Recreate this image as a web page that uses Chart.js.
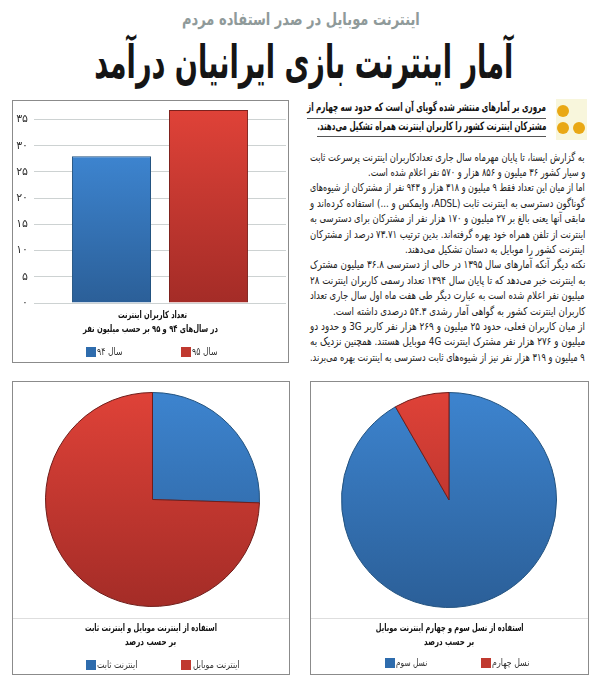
<!DOCTYPE html>
<html lang="fa">
<head>
<meta charset="utf-8">
<title>آمار اینترنت</title>
<script src="https://cdn.jsdelivr.net/npm/chart.js@4"></script>
<style>
  html, body { margin: 0; padding: 0; background: #fff; }
  body { width: 600px; height: 680px; position: relative; overflow: hidden; font-family: "DejaVu Sans", sans-serif; }
  .frame { position: absolute; border: 1px solid #8b8b8b; box-sizing: border-box; }
  .frame canvas { position: absolute; left: 0; top: 0; }
  .sep { position: absolute; left: 0; right: 0; height: 1px; background: #dedede; }
  .fit { position: absolute; white-space: nowrap; direction: rtl; transform-origin: 100% 50%; line-height: 1; }
  .rule { position: absolute; height: 1px; background: #555; }
  .dot { position: absolute; width: 12px; height: 12px; border-radius: 50%; background: #e9a815; }
  .swatch { position: absolute; width: 10px; height: 10px; }
  #iconBg { position: absolute; left: 556px; top: 99px; width: 31px; height: 41px; background: #f8f6dc; }
</style>
</head>
<body>

<div id="iconBg"></div>
<div class="dot" style="left:557px;top:105px"></div>
<div class="dot" style="left:557px;top:122px"></div>
<div class="dot" style="left:573px;top:122px"></div>
<div class="rule" style="left:307px;top:118px;width:239px"></div>
<div class="rule" style="left:317px;top:136px;width:229px"></div>

<div class="frame" style="left:12px;top:100px;width:277px;height:263px"><canvas id="barChart" width="275" height="261"></canvas></div>
<div class="frame" style="left:12px;top:381px;width:278px;height:294px"><div class="sep" style="top:236px"></div><canvas id="pieLeft" width="276" height="292"></canvas></div>
<div class="frame" style="left:310px;top:381px;width:279px;height:294px"><div class="sep" style="top:236px"></div><canvas id="pieRight" width="277" height="292"></canvas></div>

<script>
// bar chart
const barCategories = [''];
const barSeriesNames = ['سال ۹۴', 'سال ۹۵'];
const barValues94 = [28];
const barValues95 = [36.8];
const barTickLabels = ['۰', '۵', '۱۰', '۱۵', '۲۰', '۲۵', '۳۰', '۳۵'];
const barTitle = ['تعداد کاربران اینترنت', 'در سال‌های ۹۴ و ۹۵ بر حسب میلیون نفر'];

// pies
const fixedLabels = ['اینترنت ثابت', 'اینترنت موبایل'];
const fixedValues = [25.5, 74.5];
const fixedTitle = ['استفاده از اینترنت موبایل و اینترنت ثابت', 'بر حسب درصد'];

const genLabels = ['نسل سوم', 'نسل چهارم'];
const genValues = [91.7, 8.3];
const genTitle = ['استفاده از نسل سوم و چهارم اینترنت موبایل', 'بر حسب درصد'];

// article text
const subTitle = 'اینترنت موبایل در صدر استفاده مردم';
const mainTitle = 'آمار اینترنت بازی ایرانیان درآمد';
const leadLines = [
  'مروری بر آمارهای منتشر شده گویای آن است که حدود سه چهارم از',
  'مشترکان اینترنت کشور را کاربران اینترنت همراه تشکیل می‌دهند.'
];
const bodyLines = [
  'به گزارش ایسنا، تا پایان مهرماه سال جاری تعدادکاربران اینترنت پرسرعت ثابت',
  'و سیار کشور ۳۶ میلیون و ۸۵۶ هزار و ۵۷۰ نفر اعلام شده است.',
  'اما از میان این تعداد فقط ۹ میلیون و ۳۱۸ هزار و ۹۴۳ نفر از مشترکان از شیوه‌های',
  'گوناگون دسترسی به اینترنت ثابت (ADSL، وایمکس و ...) استفاده کرده‌اند و',
  'مابقی آنها یعنی بالغ بر ۲۷ میلیون و ۱۷۰ هزار نفر از مشترکان برای دسترسی به',
  'اینترنت از تلفن همراه خود بهره گرفته‌اند. بدین ترتیب ۷۳.۷۱ درصد از مشترکان',
  'اینترنت کشور را موبایل به دستان تشکیل می‌دهند.',
  'نکته دیگر آنکه آمارهای سال ۱۳۹۵ در حالی از دسترسی ۳۶.۸ میلیون مشترک',
  'به اینترنت خبر می‌دهد که تا پایان سال ۱۳۹۴ تعداد رسمی کاربران اینترنت ۲۸',
  'میلیون نفر اعلام شده است به عبارت دیگر طی هفت ماه اول سال جاری تعداد',
  'کاربران اینترنت کشور به گواهی آمار رشدی ۵۴.۳ درصدی داشته است.',
  'از میان کاربران فعلی، حدود ۲۵ میلیون و ۲۶۹ هزار نفر کاربر 3G و حدود دو',
  'میلیون و ۲۷۶ هزار نفر مشترک اینترنت 4G موبایل هستند. همچنین نزدیک به',
  '۹ میلیون و ۳۱۹ هزار نفر نیز از شیوه‌های ثابت دسترسی به اینترنت بهره می‌برند.'
];
const bodyWidths = [275, 217, 275, 275, 275, 275, 180, 275, 275, 275, 252, 275, 275, 275];

const blueFlat = '#2e6cad';
const redFlat = '#c0392f';
const blueStops = ['#3d84cf', '#2b5f98'];
const redStops = ['#df4238', '#a42c27'];
const chartFont = '"DejaVu Sans", sans-serif';

// puts one line of text on the page, squeezed to the width it has in the paper
const addLine = (text, right, centerY, width, size, weight, color) => {
  const el = document.createElement('div');
  el.className = 'fit';
  el.textContent = text;
  el.style.right = (600 - right) + 'px';
  el.style.top = (centerY - size / 2) + 'px';
  el.style.fontSize = size + 'px';
  el.style.fontWeight = weight;
  el.style.color = color;
  document.body.appendChild(el);
  el.style.transform = 'scaleX(' + (width / el.offsetWidth) + ')';
};

const addSwatch = (left, centerY, color) => {
  const el = document.createElement('div');
  el.className = 'swatch';
  el.style.left = left + 'px';
  el.style.top = (centerY - 5) + 'px';
  el.style.background = color;
  document.body.appendChild(el);
};

// first pass runs before layout, scales have no pixels yet
const vGradient = (chart, top, bottom, stops) => {
  if (!Number.isFinite(top) || !Number.isFinite(bottom)) return stops[1];
  const g = chart.ctx.createLinearGradient(0, top, 0, bottom);
  g.addColorStop(0, stops[0]);
  g.addColorStop(1, stops[1]);
  return g;
};

const barFill = (stops) => (c) => {
  const y = c.chart.scales.y;
  if (!y || !c.parsed) return stops[1];
  return vGradient(c.chart, y.getPixelForValue(c.parsed.y), y.getPixelForValue(0), stops);
};

const pieFill = (c) => {
  const a = c.chart.chartArea;
  const stops = c.dataIndex === 0 ? blueStops : redStops;
  if (!a) return stops[1];
  return vGradient(c.chart, a.top, a.bottom, stops);
};

const showBar = () => {
  new Chart(document.getElementById('barChart'), {
    type: 'bar',
    data: {
      labels: barCategories,
      datasets: [
        { label: barSeriesNames[0], data: barValues94, backgroundColor: barFill(blueStops), borderColor: '#22527f', borderWidth: 1 },
        { label: barSeriesNames[1], data: barValues95, backgroundColor: barFill(redStops), borderColor: '#7d211d', borderWidth: 1 }
      ]
    },
    options: {
      responsive: false,
      animation: false,
      layout: { padding: { top: 8, right: 2, bottom: 51, left: 0 } },
      datasets: { bar: { categoryPercentage: 0.77, barPercentage: 0.815 } },
      scales: {
        x: { grid: { display: false }, border: { display: false }, ticks: { display: false } },
        y: {
          min: 0,
          max: 37,
          afterFit: (axis) => { axis.width = 21; axis.paddingTop = 0; },
          grid: { color: '#cdd2d2', drawTicks: false },
          border: { display: false },
          ticks: {
            stepSize: 5,
            includeBounds: false,
            padding: 6,
            color: '#333',
            font: { family: chartFont, size: 11 },
            callback: (v) => barTickLabels[v / 5]
          }
        }
      },
      plugins: { title: { display: false }, legend: { display: false }, tooltip: { enabled: false } }
    }
  });
};

const showPie = (id, labels, values, padding) => {
  new Chart(document.getElementById(id), {
    type: 'pie',
    data: {
      labels: labels,
      datasets: [{
        data: values,
        backgroundColor: pieFill,
        borderColor: ['#22527f', '#6f1d1a'],
        borderWidth: 1
      }]
    },
    options: {
      responsive: false,
      animation: false,
      layout: { padding: padding },
      plugins: { title: { display: false }, legend: { display: false }, tooltip: { enabled: false } }
    }
  });
};

window.addEventListener('load', function () {
  addLine(subTitle, 420, 19, 238, 17, 'bold', '#8f9a9a');
  addLine(mainTitle, 513, 62, 419, 46, 'bold', '#151515');
  addLine(leadLines[0], 546, 108, 239, 11.5, 'bold', '#111');
  addLine(leadLines[1], 546, 127, 229, 11.5, 'bold', '#111');
  bodyLines.forEach((line, i) => {
    addLine(line, 585, 157 + i * 15.4, bodyWidths[i], 11, 'normal', '#222');
  });

  showBar();
  addLine(barTitle[0], 187, 315, 69, 10, 'bold', '#111');
  addLine(barTitle[1], 218, 328.5, 135, 10, 'bold', '#111');
  addSwatch(86, 352, blueFlat);
  addLine(barSeriesNames[0], 123, 352, 26, 10, 'normal', '#333');
  addSwatch(181, 352, redFlat);
  addLine(barSeriesNames[1], 218, 352, 26, 10, 'normal', '#333');

  showPie('pieLeft', fixedLabels, fixedValues, { top: 10, left: 3, right: 0, bottom: 67 });
  addLine(fixedTitle[0], 217, 628, 132, 10, 'bold', '#111');
  addLine(fixedTitle[1], 176, 642, 51, 10, 'bold', '#111');
  addSwatch(86, 665, blueFlat);
  addLine(fixedLabels[0], 137, 665, 40, 10, 'normal', '#333');
  addSwatch(181, 665, redFlat);
  addLine(fixedLabels[1], 240, 665, 47, 10, 'normal', '#333');

  showPie('pieRight', genLabels, genValues, { top: 10, left: 0, right: 1, bottom: 66 });
  addLine(genTitle[0], 524, 628, 148, 10, 'bold', '#111');
  addLine(genTitle[1], 474, 642, 50, 10, 'bold', '#111');
  addSwatch(385, 663, blueFlat);
  addLine(genLabels[0], 427, 663, 31, 10, 'normal', '#333');
  addSwatch(481, 663, redFlat);
  addLine(genLabels[1], 529, 663, 37, 10, 'normal', '#333');
});
</script>
</body>
</html>
